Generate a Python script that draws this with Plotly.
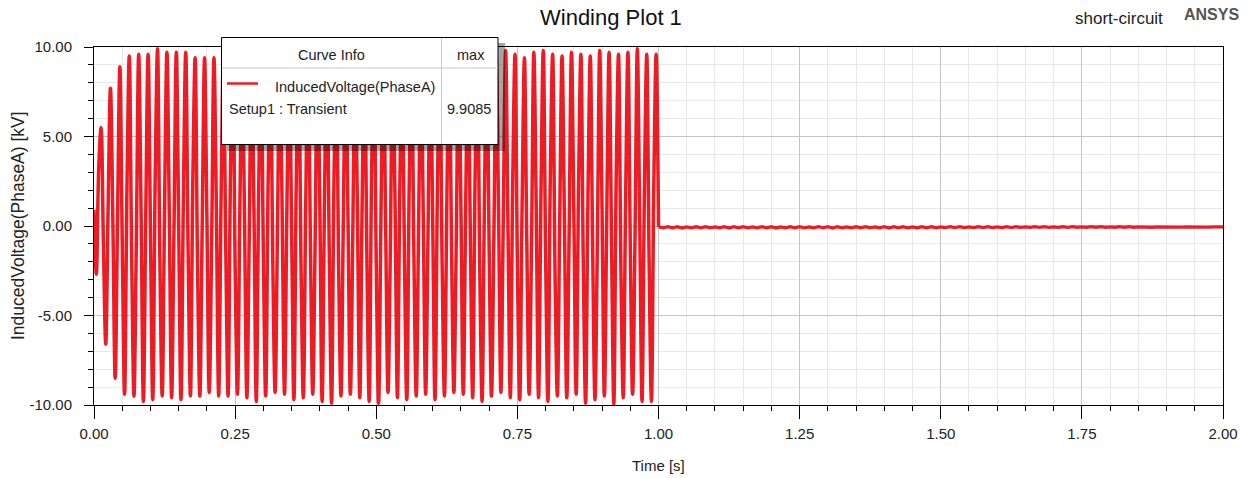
import plotly.graph_objects as go

# ---------------- data ----------------
sample_step_s = 1 / 240          # solver output step (4 samples per 60 Hz cycle)
start_kv = 0.9                   # value at t = 0
fault_kv = -0.05                 # value at t = 1.00 s (short-circuit applied)

trough_kv = [
    -2.7, -6.6, -8.5, -9.4, -9.5, -9.8, -9.7, -9.5, -9.6, -9.7,
    -9.5, -9.5, -9.3, -9.5, -9.5, -9.4, -9.6, -9.8, -9.5, -9.3,
    -9.4, -9.7, -9.6, -9.4, -9.8, -9.9, -9.5, -9.4, -9.6, -9.8,
    -9.9, -9.3, -9.6, -9.7, -9.5, -9.4, -9.7, -9.5, -9.3, -9.4,
    -9.6, -9.8, -9.5, -9.3, -9.6, -9.7, -9.4, -9.6, -9.8, -9.5,
    -9.6, -9.4, -9.9, -9.7, -9.5, -9.95, -9.6, -9.4, -9.8, -9.8,
]
rise_mid_kv = [
    3.2, 1.0, 0.3, 2.0, -0.8, 0.5, 2.5, 1.0, -0.3, 1.5,
    2.4, 0.0, -1.2, 1.2, 2.7, 0.8, -0.5, 1.8, 2.0, -0.3,
    0.8, 2.5, 1.0, -1.0, 1.5, 2.2, 0.3, -0.8, 1.2, 2.7,
    0.5, -1.2, 1.8, 2.2, 0.0, -0.5, 2.0, 1.2, -1.0, 0.8,
    2.5, 1.5, -0.8, 0.3, 2.2, 1.0, -1.2, 1.5, 2.7, 0.3,
    -0.5, 2.0, 1.5, -1.0, 0.5, 2.5, 1.2, -0.8, 1.8, 2.2,
]
peak_kv = [
    5.5, 7.7, 8.9, 9.5, 9.6, 9.6, 9.9, 9.7, 9.7, 9.7,
    9.4, 9.4, 9.4, 9.6, 9.8, 9.7, 9.5, 9.6, 9.8, 9.7,
    9.5, 9.6, 9.8, 9.7, 9.6, 9.5, 9.7, 9.8, 9.6, 9.5,
    9.7, 9.9, 9.6, 9.5, 9.4, 9.6, 9.8, 9.7, 9.5, 9.6,
    9.8, 9.7, 9.5, 9.8, 9.6, 9.4, 9.7, 9.8, 9.6, 9.5,
    9.7, 9.6, 9.5, 9.8, 9.7, 9.6, 9.7, 9.9085, 9.6, 9.6,
]
fall_mid_kv = [
    -1.0, 0.5, -0.8, -1.5, 1.0, -0.3, -1.8, 0.8, 0.0, -1.2,
    -2.0, 0.5, 1.2, -1.0, -2.2, 0.3, 1.0, -1.5, -1.8, 0.8,
    0.0, -2.0, -0.8, 1.2, -1.2, -2.2, 0.3, 0.8, -1.5, -2.0,
    0.0, 1.2, -1.8, -1.5, 0.5, 0.3, -2.0, -1.0, 1.0, -0.5,
    -2.2, -1.2, 0.8, 0.0, -2.0, -0.8, 1.2, -1.5, -2.5, 0.3,
    0.8, -1.8, -1.2, 1.0, -0.5, -2.2, -1.0, 0.5, -1.8,
]
# after the short-circuit: small 60 Hz ripple just below zero
tail_step_s = 1 / 120
tail_kv = [
    -0.10, -0.04, -0.10, -0.04, -0.11, -0.05, -0.10, -0.04, -0.10, -0.04,
    -0.10, -0.05, -0.10, -0.04, -0.11, -0.04, -0.10, -0.04, -0.10, -0.05,
    -0.10, -0.04, -0.10, -0.04, -0.11, -0.05, -0.10, -0.04, -0.10, -0.04,
    -0.10, -0.05, -0.10, -0.04, -0.10, -0.04, -0.11, -0.04, -0.10, -0.05,
    -0.10, -0.04, -0.10, -0.04, -0.10, -0.05, -0.10, -0.04, -0.11, -0.04,
    -0.10, -0.04, -0.10, -0.05, -0.10, -0.04, -0.10, -0.04, -0.10, -0.05,
    -0.09, -0.04, -0.09, -0.04, -0.09, -0.05, -0.09, -0.04, -0.09, -0.04,
    -0.09, -0.05, -0.09, -0.04, -0.09, -0.04, -0.08, -0.05, -0.08, -0.04,
    -0.08, -0.04, -0.08, -0.05, -0.08, -0.04, -0.08, -0.04, -0.07, -0.05,
    -0.07, -0.04, -0.07, -0.04, -0.07, -0.05, -0.07, -0.04, -0.07, -0.04,
    -0.07, -0.05, -0.07, -0.05, -0.07, -0.05, -0.06, -0.05, -0.06, -0.05,
    -0.06, -0.05, -0.06, -0.05, -0.06, -0.05, -0.06, -0.05, -0.06, -0.05,
]
x_ticks = [0.0, 0.25, 0.5, 0.75, 1.0, 1.25, 1.5, 1.75, 2.0]
x_tick_labels = ["0.00", "0.25", "0.50", "0.75", "1.00", "1.25", "1.50", "1.75", "2.00"]
y_ticks = [-10, -5, 0, 5, 10]
y_tick_labels = ["-10.00", "-5.00", "0.00", "5.00", "10.00"]
max_label = "9.9085"

# ---------------- build the series ----------------
volt = [start_kv]
for k in range(len(peak_kv)):
    volt += [trough_kv[k], rise_mid_kv[k], peak_kv[k]]
    if k < len(fall_mid_kv):
        volt.append(fall_mid_kv[k])
volt.append(fault_kv)
time = [i * sample_step_s for i in range(len(volt))]
t_end = time[-1]
tail_time = [t_end] + [t_end + (j + 1) * tail_step_s for j in range(len(tail_kv))]
tail_volt = [fault_kv] + tail_kv

RED = "#ED1C24"
FONT = "Liberation Sans, Arial, sans-serif"

fig = go.Figure()
fig.add_trace(go.Scatter(x=time, y=volt, mode="lines",
                         line=dict(color=RED, width=3.5, shape="spline",
                                   smoothing=1.0),
                         showlegend=False, hoverinfo="skip"))
fig.add_trace(go.Scatter(x=tail_time, y=tail_volt, mode="lines",
                         line=dict(color=RED, width=3.3),
                         showlegend=False, hoverinfo="skip"))

axis_common = dict(showline=True, linecolor="black", linewidth=1, mirror=True,
                   ticks="outside", tickcolor="black", zeroline=False,
                   tickfont=dict(family=FONT, size=15, color="#222"),
                   showgrid=True, gridcolor="#c4c4c4", gridwidth=1)

fig.update_xaxes(range=[0, 2], tickvals=x_ticks, ticktext=x_tick_labels,
                 ticklen=13, ticklabelstandoff=2,
                 minor=dict(dtick=0.05, ticklen=5, tickcolor="black",
                            showgrid=True, gridcolor="#e8e8e8", ticks="outside"),
                 **axis_common)
fig.update_yaxes(range=[-10, 10], tickvals=y_ticks, ticktext=y_tick_labels,
                 ticklen=9, ticklabelstandoff=9,
                 minor=dict(dtick=1, ticklen=5, tickcolor="black",
                            showgrid=True, gridcolor="#e8e8e8", ticks="outside"),
                 **axis_common)

# pixel -> paper helpers for the decorations
L, R, T, B = 94, 1223, 47, 405
def px(x):
    return (x - L) / (R - L)
def py(y):
    return (B - y) / (B - T)

shapes = [
    # legend shadow
    dict(type="rect", xref="paper", yref="paper", x0=px(227), x1=px(505),
         y0=py(151), y1=py(43), fillcolor="rgba(0,0,0,0.35)", line_width=0,
         layer="above"),
    # legend box
    dict(type="rect", xref="paper", yref="paper", x0=px(221.5), x1=px(498),
         y0=py(144.5), y1=py(37.5), fillcolor="white",
         line=dict(color="black", width=1), layer="above"),
    dict(type="line", xref="paper", yref="paper", x0=px(222), x1=px(498),
         y0=py(68), y1=py(68), line=dict(color="#c8c8c8", width=1), layer="above"),
    dict(type="line", xref="paper", yref="paper", x0=px(441.5), x1=px(441.5),
         y0=py(38), y1=py(144), line=dict(color="#c8c8c8", width=1), layer="above"),
    dict(type="line", xref="paper", yref="paper", x0=px(227), x1=px(258),
         y0=py(83.5), y1=py(83.5), line=dict(color=RED, width=2.5), layer="above"),
]

def ann(text, x, y, size=15, xanchor="center", color="#222", bold=False, angle=0):
    return dict(text=f"<b>{text}</b>" if bold else text, x=x, y=y,
                xref="paper", yref="paper", xanchor=xanchor, yanchor="middle",
                showarrow=False, textangle=angle,
                font=dict(family=FONT, size=size, color=color))

annotations = [
    ann("Winding Plot 1", px(610.5), py(18), size=22, color="#111"),
    ann("short-circuit", px(1118.5), py(19), size=17, color="#222"),
    ann("ANSYS", px(1211), py(14), size=16, color="#555", bold=True),
    ann("Time [s]", 0.5, py(465), size=15),
    ann("InducedVoltage(PhaseA) [kV]", px(18), py(226), size=17.5, angle=-90),
    ann("Curve Info", px(331.5), py(55), size=14.5),
    ann("max", px(470.5), py(55), size=14.5),
    ann("InducedVoltage(PhaseA)", px(272.5), py(87), size=14.5, xanchor="left"),
    ann("Setup1 : Transient", px(227), py(109), size=14.5, xanchor="left"),
    ann(max_label, px(493), py(109), size=14.5, xanchor="right"),
]

fig.update_layout(width=1249, height=478,
                  margin=dict(l=L, r=1249 - R, t=T, b=478 - B),
                  paper_bgcolor="white", plot_bgcolor="white",
                  font=dict(family=FONT, color="#222"),
                  shapes=shapes, annotations=annotations)

fig.write_html("out.html", config={"displayModeBar": False},
               post_script="document.body.style.margin='0px';"
                           "document.body.style.overflow='hidden';")
